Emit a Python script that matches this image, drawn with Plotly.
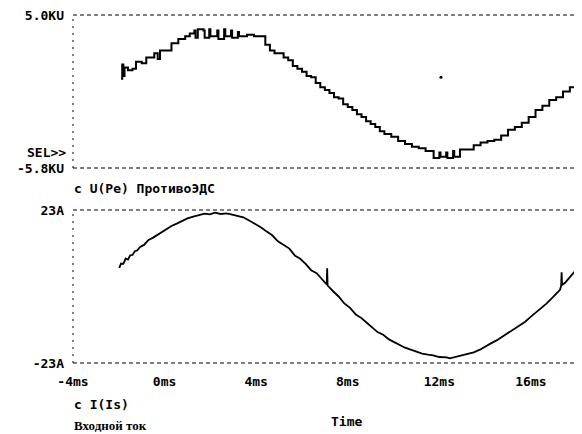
import plotly.graph_objects as go

# ---------------- data ----------------
# Time axis ticks (ms)
tick_vals = [-4, 0, 4, 8, 12, 16]
tick_text = ["-4ms", "0ms", "4ms", "8ms", "12ms", "16ms"]

# Input current I(Is), A
cur_t = [-1.98, -1.9, -1.8, -1.7, -1.6, -1.5, -1.4, -1.3, -1.2, -1.07, -0.9, -0.7, -0.5, -0.2,
         0.1, 0.3, 0.53, 0.8, 1.0, 1.25, 1.5, 1.75, 1.98, 2.2, 2.45, 2.71, 2.95, 3.2, 3.44,
         3.73, 4.02, 4.25, 4.46, 4.7, 4.95, 5.18, 5.45, 5.7, 5.91, 6.15, 6.4, 6.64, 6.9,
         7.08, 7.1, 7.12, 7.37, 7.6, 7.85, 8.1, 8.35, 8.6, 8.83, 9.1, 9.3, 9.55, 9.8, 10.05,
         10.28, 10.5, 10.75, 11.01, 11.25, 11.5, 11.73, 12.0, 12.32, 12.46, 12.7, 13.04,
         13.3, 13.5, 13.77, 14.0, 14.25, 14.5, 14.75, 15.0, 15.23, 15.5, 15.75, 15.96, 16.2,
         16.45, 16.69, 16.95, 17.27, 17.32, 17.34, 17.36, 17.5, 17.71, 17.95, 18.14, 18.23]
cur_i = [5.6, 6.9, 6.8, 8.4, 8.1, 9.4, 9.5, 10.6, 10.8, 11.9, 12.5, 14.0, 14.7, 16.0,
         17.4, 18.2, 18.9, 19.9, 20.5, 21.0, 21.4, 21.9, 21.7, 22.2, 21.8, 22.0, 21.6, 21.2, 20.8,
         19.7, 18.6, 17.6, 16.5, 15.4, 13.6, 12.6, 11.4, 9.2, 8.4, 6.9, 4.9, 4.0, 1.8,
         0.6, 5.5, 0.3, -1.5, -3.0, -5.1, -6.4, -8.4, -9.5, -10.9, -12.4, -13.7, -14.5, -15.9, -16.8,
         -17.6, -18.4, -19.0, -19.6, -20.2, -20.5, -20.7, -21.2, -21.3, -21.6, -21.2, -20.8,
         -20.3, -19.8, -19.0, -18.2, -17.1, -16.2, -15.1, -14.0, -13.1, -11.8, -10.6, -9.3, -8.0,
         -6.4, -5.1, -3.3, -1.0, 0.2, 4.3, 0.4, 1.2, 2.9, 4.9, 6.4, 7.0]

# Counter-EMF U(Pe), kV (stepped waveform)
emf_t = [-1.9, -1.85, -1.8, -1.75, -1.6, -1.4, -1.25, -1.0, -0.8, -0.6, -0.45, -0.3, -0.2,
         0.0, 0.3, 0.6, 0.9, 1.1, 1.3, 1.35, 1.45, 1.7, 1.75, 1.95, 2.0, 2.3, 2.35, 2.6, 2.65,
         2.9, 2.95, 3.2, 3.25, 3.6, 3.9, 4.2, 4.4, 4.6, 4.8, 5.0, 5.2, 5.4, 5.6, 5.8, 6.0,
         6.2, 6.4, 6.6, 6.8, 7.0, 7.2, 7.4, 7.6, 7.8, 8.0, 8.2, 8.4, 8.6, 8.8, 9.0, 9.2, 9.4,
         9.6, 9.9, 10.2, 10.5, 10.8, 11.1, 11.4, 11.7, 11.75, 12.0, 12.05, 12.3, 12.35, 12.6,
         12.65, 12.9, 13.2, 13.5, 13.8, 14.1, 14.4, 14.7, 15.0, 15.3, 15.6, 15.9, 16.2, 16.5,
         16.8, 17.1, 17.4, 17.7, 18.0, 18.2]
emf_v = [0.5, 1.5, 0.7, 1.3, 1.1, 1.2, 1.7, 1.6, 2.0, 2.0, 2.3, 1.9, 2.5,
         2.5, 3.0, 3.3, 3.5, 3.7, 3.9, 3.4, 4.0, 3.9, 3.4, 4.0, 3.5, 3.9, 3.3, 4.0, 3.5,
         3.9, 3.4, 3.8, 3.5, 3.6, 3.5, 3.5, 2.9, 2.5, 2.3, 2.3, 2.0, 1.8, 1.4, 1.2, 1.0,
         0.7, 0.6, 0.2, -0.1, -0.3, -0.5, -0.8, -0.9, -1.3, -1.5, -1.7, -2.0, -2.2, -2.5, -2.7, -2.9, -3.2,
         -3.4, -3.6, -3.9, -4.1, -4.3, -4.4, -4.6, -4.6, -5.1, -4.7, -5.0, -4.7, -5.1, -4.6,
         -5.0, -4.5, -4.5, -4.2, -4.0, -3.9, -3.8, -3.5, -3.1, -2.9, -2.6, -2.2, -1.7, -1.4,
         -1.0, -0.8, -0.4, -0.1, 0.3, 0.6]

# stray sample point in the upper plot
dot_t = [12.07]
dot_v = [0.6]

# axis extents
x_range = [-4, 18.23]
emf_range = [-5.8, 5.0]
cur_range = [-23, 23]
emf_ticks = [4.999, -5.8]
emf_ticktext = ["5.0KU", "-5.8KU"]
cur_ticks = [22.99, -23]
cur_ticktext = ["23A", "-23A"]

# ---------------- figure ----------------
# the page body has an 8px margin; the figure is sized/placed to compensate
OFF = 8
FW, FH = 582 - OFF, 434 - OFF


def px(x):
    return (x - OFF) / FW


def py(y):
    return 1 - (y - OFF) / FH


mono = dict(family="DejaVu Sans Mono", size=13, color="black", weight="bold")

fig = go.Figure()
fig.add_trace(go.Scatter(x=emf_t, y=emf_v, mode="lines", line=dict(color="black", width=2, shape="hv"),
                         xaxis="x", yaxis="y", showlegend=False))
fig.add_trace(go.Scatter(x=dot_t, y=dot_v, mode="markers", marker=dict(color="black", size=3),
                         xaxis="x", yaxis="y", showlegend=False))
fig.add_trace(go.Scatter(x=cur_t, y=cur_i, mode="lines", line=dict(color="black", width=1.8),
                         xaxis="x", yaxis="y2", showlegend=False))

top_dom = [py(168), py(15)]
bot_dom = [py(363), py(210)]

common = dict(showgrid=False, zeroline=False, showline=False, ticks="", automargin=False,
              tickfont=mono, ticklabeloverflow="allow")
fig.update_layout(
    width=FW, height=FH, margin=dict(l=0, r=0, t=0, b=0, autoexpand=False),
    paper_bgcolor="white", plot_bgcolor="white",
    font=mono,
    xaxis=dict(domain=[px(73), 1], range=x_range, anchor="y2", tickvals=tick_vals, ticktext=tick_text,
               ticklabelstandoff=9, **common),
    yaxis=dict(domain=top_dom, range=emf_range, anchor="x", tickvals=emf_ticks, ticktext=emf_ticktext,
               ticklabelstandoff=8, **common),
    yaxis2=dict(domain=bot_dom, range=cur_range, anchor="x", tickvals=cur_ticks, ticktext=cur_ticktext,
                ticklabelstandoff=8, **common),
)

dash_h = "4px,3px"
dash_v = "2px,5px"
shapes = []
for yref in ["y domain", "y2 domain"]:
    for yy in [0, 1]:
        shapes.append(dict(type="line", xref="x domain", yref=yref, x0=0, x1=1, y0=yy, y1=yy,
                           line=dict(color="black", width=1, dash=dash_h)))
    shapes.append(dict(type="line", xref="x domain", yref=yref, x0=0, x1=0, y0=0, y1=1,
                       line=dict(color="black", width=1, dash=dash_v)))
fig.update_layout(shapes=shapes)

serif = dict(family="Liberation Serif", size=13, color="black", weight="bold")
ann = [
    dict(text="SEL>>", x=px(68), y=py(152), xanchor="right", yanchor="middle", font=mono),
    dict(text="c U(Pe) ПротивоЭДС", x=px(72), y=py(188), xanchor="left", yanchor="middle", font=mono),
    dict(text="c I(Is)", x=px(72), y=py(404), xanchor="left", yanchor="middle", font=mono),
    dict(text="Входной ток", x=px(72), y=py(425), xanchor="left", yanchor="middle", font=serif),
    dict(text="Time", x=px(346), y=py(421), xanchor="center", yanchor="middle", font=mono),
]
for a in ann:
    a.update(xref="paper", yref="paper", showarrow=False)
fig.update_layout(annotations=ann)

fig.write_html("out.html")
